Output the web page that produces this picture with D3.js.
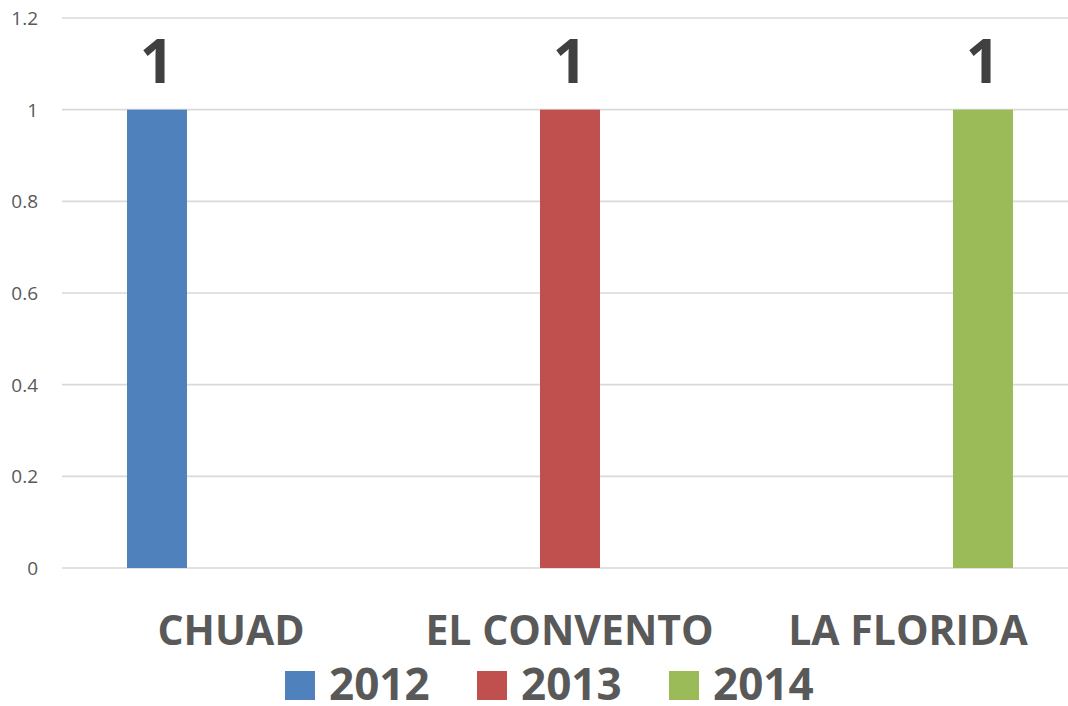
<!DOCTYPE html>
<html>
<head>
<meta charset="utf-8">
<script src="https://cdn.jsdelivr.net/npm/d3@7"></script>
<style>
html,body{margin:0;padding:0;background:#fff;}
svg{display:block;}
</style>
</head>
<body>
<script>
const categories = ["CHUAD", "EL CONVENTO", "LA FLORIDA"];
const seriesNames = ["2012", "2013", "2014"];
const values2012 = [1, 0, 0];
const values2013 = [0, 1, 0];
const values2014 = [0, 0, 1];
const yTicks = [0, 0.2, 0.4, 0.6, 0.8, 1, 1.2];
const colors = ["#4f81bd", "#c0504d", "#9bbb59"];

const series = [values2012, values2013, values2014];
const W = 1068, H = 706;
const svg = d3.select("body").append("svg").attr("width", W).attr("height", H);

const y = d3.scaleLinear().domain([0, 1.2]).range([568, 18]);
// bar placement scale (plot area extends past right edge)
const xBars = d3.scaleBand().domain(categories).range([40.5, 1099.5]);
const xSub = d3.scaleBand().domain(seriesNames).range([0, 180]);
const barOffset = (xBars.bandwidth() - 180) / 2;
// category label scale
const xLabels = d3.scalePoint().domain(categories).range([231, 908]);

// gridlines
svg.append("g").selectAll("line").data(yTicks).join("line")
  .attr("x1", 62).attr("x2", W)
  .attr("y1", d => y(d)).attr("y2", d => y(d))
  .attr("stroke", "#d9d9d9").attr("stroke-width", 1.6);

// y tick labels
svg.append("g").selectAll("text").data(yTicks).join("text")
  .attr("x", 38).attr("y", d => y(d) + 7)
  .attr("text-anchor", "end")
  .attr("font-family", "'Open Sans', sans-serif")
  .attr("font-size", 19).attr("fill", "#595959")
  .text(d => d3.format("")(+d.toFixed(1)));

// bars
const barData = [];
categories.forEach((c, ci) => {
  seriesNames.forEach((s, si) => {
    barData.push({cat: c, ser: s, si, v: series[si][ci]});
  });
});
const gBars = svg.append("g");
gBars.selectAll("rect").data(barData.filter(d => d.v > 0)).join("rect")
  .attr("x", d => xBars(d.cat) + barOffset + xSub(d.ser))
  .attr("width", xSub.bandwidth())
  .attr("y", d => y(d.v))
  .attr("height", d => y(0) - y(d.v))
  .attr("fill", d => colors[d.si]);

// data labels
svg.append("g").selectAll("text").data(barData.filter(d => d.v > 0)).join("text")
  .attr("x", d => xBars(d.cat) + barOffset + xSub(d.ser) + xSub.bandwidth() / 2)
  .attr("y", d => y(d.v) - 27)
  .attr("text-anchor", "middle")
  .attr("font-family", "'Open Sans', sans-serif")
  .attr("font-weight", "bold")
  .attr("font-size", 60).attr("fill", "#404040")
  .text(d => d.v);

// category labels
svg.append("g").selectAll("text").data(categories).join("text")
  .attr("x", d => xLabels(d)).attr("y", 645)
  .attr("text-anchor", "middle")
  .attr("font-family", "'Open Sans', sans-serif")
  .attr("font-weight", "bold")
  .attr("font-size", 41).attr("fill", "#595959")
  .text(d => d);

// legend
const leg = svg.append("g").selectAll("g").data(seriesNames).join("g")
  .attr("transform", (d, i) => `translate(${285 + i * 192},0)`);
leg.append("rect").attr("x", 0).attr("y", 671).attr("width", 30).attr("height", 29)
  .attr("fill", (d, i) => colors[i]);
leg.append("text").attr("x", 44).attr("y", 700)
  .attr("font-family", "'Open Sans', sans-serif")
  .attr("font-weight", "bold")
  .attr("font-size", 44).attr("fill", "#595959")
  .text(d => d);
</script>
</body>
</html>
